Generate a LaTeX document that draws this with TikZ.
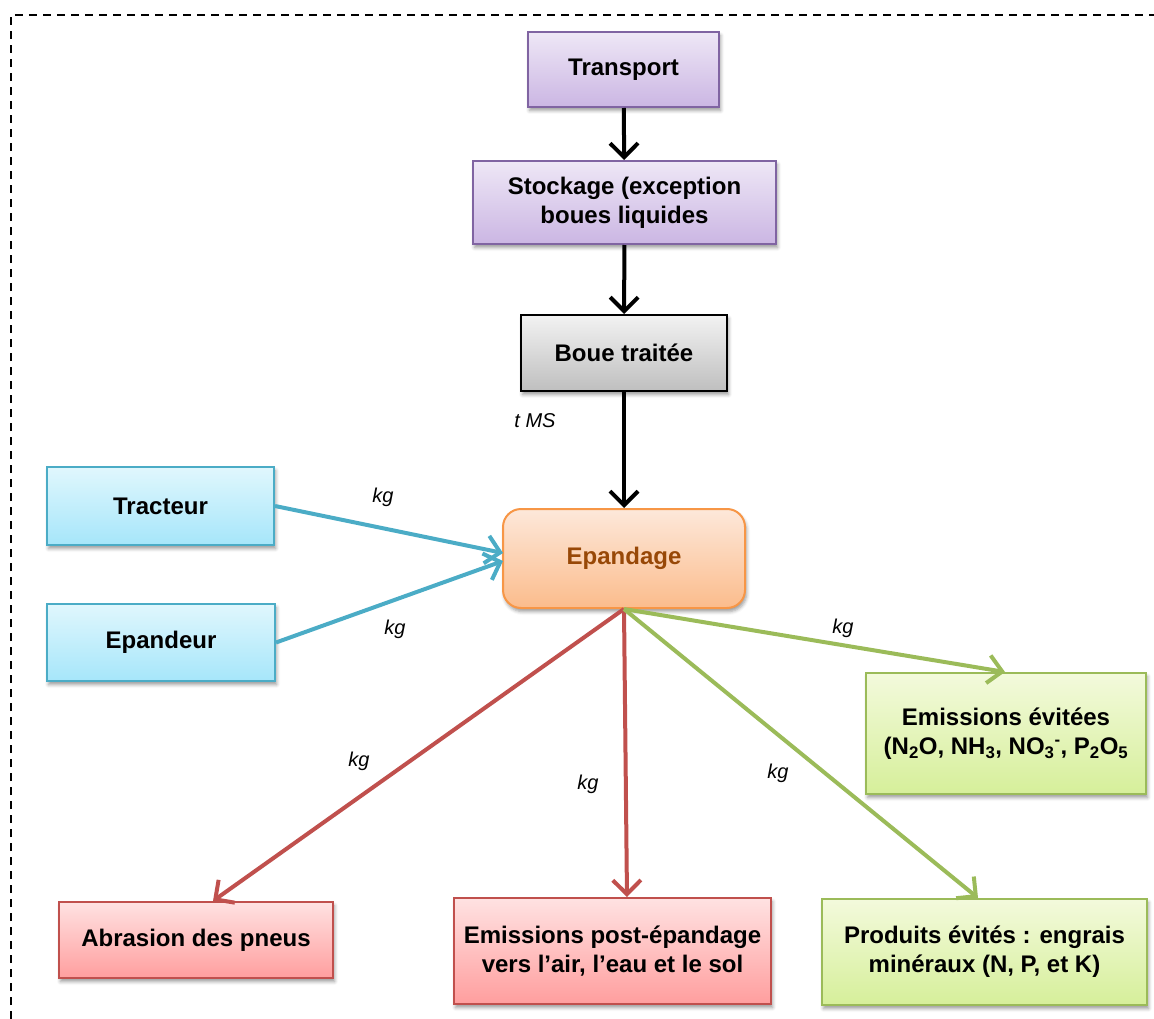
\documentclass[tikz,border=0pt]{standalone}
\usepackage{fontspec}
\setmainfont{Liberation Sans}
\usetikzlibrary{arrows.meta,shadows.blur}

\definecolor{purpleline}{HTML}{8064A2}
\definecolor{purpletop}{HTML}{EEE7F6}
\definecolor{purplebot}{HTML}{CBB6E3}
\definecolor{graytop}{HTML}{F2F2F2}
\definecolor{graybot}{HTML}{BFBFBF}
\definecolor{orangeline}{HTML}{F79646}
\definecolor{orangetop}{HTML}{FDE8DA}
\definecolor{orangebot}{HTML}{FBBC8C}
\definecolor{orangetext}{HTML}{984807}
\definecolor{blueline}{HTML}{4BACC6}
\definecolor{bluetop}{HTML}{E0F7FD}
\definecolor{bluebot}{HTML}{A6E6FA}
\definecolor{greenline}{HTML}{9BBB59}
\definecolor{greentop}{HTML}{F3FADC}
\definecolor{greenbot}{HTML}{D6EF9A}
\definecolor{redline}{HTML}{C0504D}
\definecolor{redtop}{HTML}{FFE2E2}
\definecolor{redbot}{HTML}{FF9E9E}

\tikzset{
  x=1pt, y=-1pt,
  box/.style={draw, line width=2pt, align=center, inner sep=0pt,
    font=\fontsize{24}{29}\selectfont\bfseries,
    blur shadow={shadow xshift=1.5pt, shadow yshift=-3.5pt, shadow blur radius=3.5pt, shadow opacity=40}},
  purplebox/.style={box, draw=purpleline, top color=purpletop, bottom color=purplebot},
  graybox/.style={box, draw=black, top color=graytop, bottom color=graybot},
  orangebox/.style={box, draw=orangeline, top color=orangetop, bottom color=orangebot,
    rounded corners=18pt, text=orangetext},
  bluebox/.style={box, draw=blueline, top color=bluetop, bottom color=bluebot},
  greenbox/.style={box, draw=greenline, top color=greentop, bottom color=greenbot},
  redbox/.style={box, draw=redline, top color=redtop, bottom color=redbot},
  flow/.style={line width=4pt, -{Straight Barb[length=14pt,width=28pt,line width=4pt]}},
  qty/.style={font=\fontsize{20}{24}\selectfont\itshape}
}

\begin{document}
\begin{tikzpicture}
\useasboundingbox (0,0) rectangle (1154,1019);

% dashed frame
\draw[line width=1.8pt, dash pattern=on 8pt off 6pt] (11,1019) -- (11,15) -- (1154,15);

% boxes
\node[purplebox, minimum width=191pt, minimum height=75pt] (transport) at (623.5,69.5) {Transport};
\node[purplebox, minimum width=303pt, minimum height=83pt] (stockage) at (624.5,202.5) {Stockage (exception\\boues liquides};
\node[graybox, minimum width=206pt, minimum height=76pt] (boue) at (624,353) {Boue traitée};
\node[orangebox, minimum width=242pt, minimum height=99pt] (epandage) at (624,558.5) {Epandage};
\node[bluebox, minimum width=227pt, minimum height=78pt] (tracteur) at (160.5,506) {Tracteur};
\node[bluebox, minimum width=228pt, minimum height=77pt] (epandeur) at (161,642.5) {Epandeur};
\node[greenbox, minimum width=280pt, minimum height=121pt] (evitees) at (1006,733.5)
  {Emissions évitées\\(N\textsubscript{2}O, NH\textsubscript{3}, NO\textsubscript{3}\textsuperscript{-}, P\textsubscript{2}O\textsubscript{5}};
\node[redbox, minimum width=274pt, minimum height=76pt] (abrasion) at (196,940) {Abrasion des pneus};
\node[redbox, minimum width=317pt, minimum height=106pt] (post) at (612.5,951) {Emissions post-épandage\\vers l’air, l’eau et le sol};
\node[greenbox, minimum width=325pt, minimum height=106pt] (produits) at (984.5,952) {Produits évités : engrais\\minéraux (N, P, et K)};

% anchor points on the spreading box
\coordinate (src) at (624,609);
\coordinate (inA) at (503,553);
\coordinate (inB) at (503,561);

% black chain
\draw[flow, black] (transport) -- (stockage);
\draw[flow, black] (stockage) -- (boue);
\draw[flow, black] (boue) -- (epandage);

% machinery inputs
\draw[flow, blueline] (tracteur.east) -- (inA);
\draw[flow, blueline] (epandeur.east) -- (inB);

% emissions
\draw[flow, redline] (src) -- (213,901);
\draw[flow, redline] (src) -- (post.north -| 627,0);
\draw[flow, greenline] (src) -- (1005,672);
\draw[flow, greenline] (src) -- (978,898);

% quantity labels
\node[qty] (lms) at (535,421) {t MS};
\node[qty] (l1) at (383,497) {kg};
\node[qty] (l2) at (395,629) {kg};
\node[qty] (l3) at (843,628) {kg};
\node[qty] (l4) at (359,761) {kg};
\node[qty] (l5) at (588,784) {kg};
\node[qty] (l6) at (778,773) {kg};
\end{tikzpicture}
\end{document}
